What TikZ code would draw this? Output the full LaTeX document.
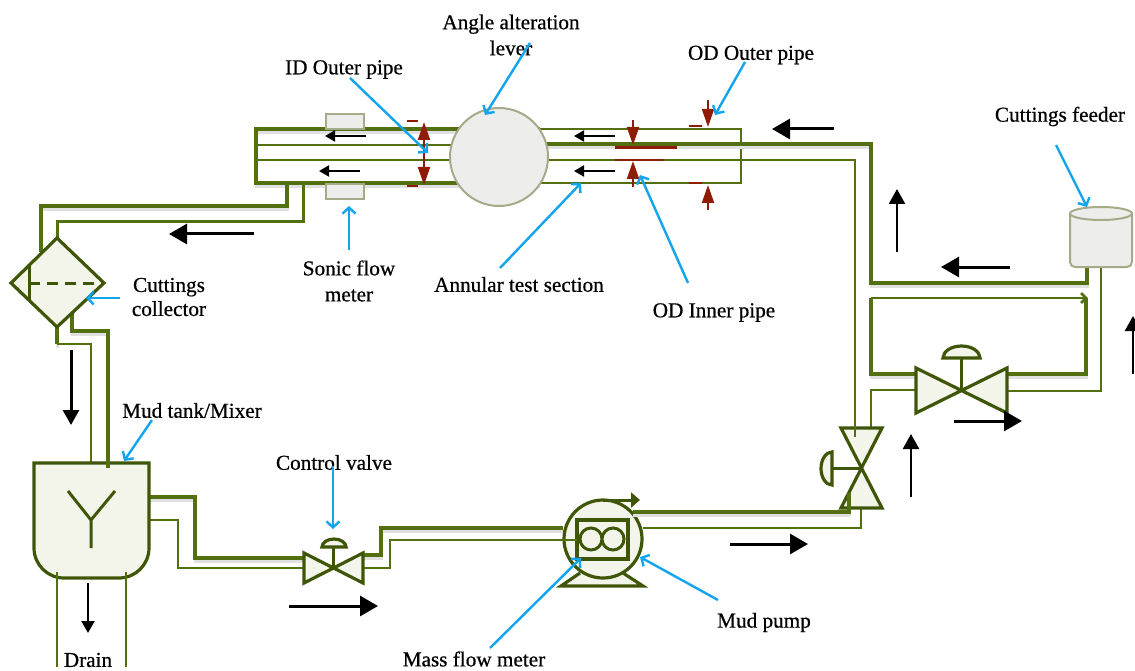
\documentclass[tikz,border=0pt]{standalone}
\usepackage{fontspec}
\setmainfont{Liberation Serif}[FakeBold=0.6]
\usetikzlibrary{arrows.meta,calc}
\definecolor{pipe}{HTML}{527010}
\definecolor{dk}{HTML}{3F5608}
\definecolor{bodyfill}{HTML}{F3F5EB}
\definecolor{grayfill}{HTML}{EDEDEB}
\definecolor{grayedge}{HTML}{A5AA88}
\definecolor{lead}{HTML}{12A5EE}
\definecolor{redd}{HTML}{8E1C06}
\tikzset{
  thick pipe/.style={draw=pipe,line width=4.2pt,line join=miter,drop},
  thin pipe/.style={draw=pipe,line width=2.8pt},
  drop/.style={preaction={draw=black!12,line width=3pt,transform canvas={yshift=-3.5pt}}},
  equip/.style={draw=dk,line width=3.2pt,fill=bodyfill,line join=miter},
  equipline/.style={draw=dk,line width=3pt},
  graybox/.style={draw=grayedge,line width=2pt,fill=grayfill,inner sep=0pt},
  flow/.style={draw=black,line width=3pt,-{Triangle[length=18pt,width=20pt]}},
  flowv/.style={draw=black,line width=2.4pt,-{Triangle[length=15pt,width=16pt]}},
  smallflow/.style={draw=black,line width=2pt,-{Triangle[length=10pt,width=11pt]}},
  leader/.style={draw=lead,line width=2.4pt,-{Straight Barb[length=6pt,width=13pt]}},
  dim/.style={draw=redd,line width=2pt,-{Triangle[length=18pt,width=12pt]}},
  dimbar/.style={draw=redd,line width=2.2pt},
  lbl/.style={font=\fontsize{21.2}{26}\selectfont,text=black,inner sep=0pt,align=center},
}
\begin{document}
\begin{tikzpicture}[x=1pt,y=-1pt]
\useasboundingbox (0,0) rectangle (1135,671);
% pipes
\draw[thick pipe] (540,129) -- (256,129) -- (256,183) -- (540,183);
\draw[thin pipe] (256,145) -- (458,145) (256,160) -- (452,160);
\draw[thin pipe] (540,129) -- (741,129) -- (741,183) -- (540,183);
\draw[thick pipe] (540,144) -- (871,144) -- (871,283) -- (1087,283) -- (1087,267);
\draw[thin pipe] (540,160) -- (855,160) -- (855,428);
\draw[thick pipe] (287,183) -- (287,206) -- (41,206) -- (41,252);
\draw[thin pipe,line width=3pt] (303,183) -- (303,222) -- (57,222) -- (57,238);
\draw[thick pipe] (57,327) -- (57,344);
\draw[thin pipe] (57,344) -- (91,344) -- (91,462);
\draw[thick pipe] (72,312) -- (72,331) -- (108,331) -- (108,468);
\draw[thick pipe] (149,497) -- (195,497) -- (195,558) -- (305,558);
\draw[thin pipe] (149,520) -- (178,520) -- (178,568) -- (305,568);
\draw[thick pipe] (363,555) -- (381,555) -- (381,528) -- (563,528);
\draw[thin pipe] (363,568) -- (390,568) -- (390,540) -- (577,540);
\draw[thin pipe] (643,528) -- (861,528) -- (861,508);
\draw[thin pipe] (871,428) -- (871,390) -- (916,390);
\draw[thick pipe] (871,298) -- (871,374) -- (916,374);
\draw[thick pipe] (1007,374) -- (1086,374) -- (1086,298);
\draw[thin pipe] (871,298) -- (1086,298);
\draw[thin pipe] (1081,293) -- (1086,298) -- (1081,303);
\draw[thin pipe] (1007,391) -- (1101,391) -- (1101,267);
\draw[thin pipe] (57,573) -- (57,667) (126,573) -- (126,667);
% gray boxes and lever
\node[graybox,minimum width=38pt,minimum height=15pt] (sonicTop) at (345,122) {};
\node[graybox,minimum width=38pt,minimum height=15pt] (sonicBot) at (345,191.5) {};
\node[graybox,circle,minimum size=98pt] (lever) at (499,157) {};
% feeder
\draw[graybox,rounded corners=5pt] (1070,213) -- (1070,267) -- (1132,267) -- (1132,213);
\draw[graybox] (1101,213.5) ellipse [x radius=31,y radius=6.5];
% collector
\draw[equip] (57,238) -- (104,283) -- (57,327) -- (11,283) -- cycle;
\draw[equipline] (29,265) -- (29,301);
\draw[equipline,dash pattern=on 11pt off 7pt] (29,283) -- (104,283);
% tank
\draw[equip] (34,463) -- (149,463) -- (149,548) arc[start angle=0,end angle=90,radius=30] -- (64,578) arc[start angle=90,end angle=180,radius=30] -- cycle;
\draw[draw=pipe,line width=4.2pt] (108,450) -- (108,468);
\draw[equipline] (68,491) -- (91,520) -- (115,491) (91,520) -- (91,548);
\draw[thin pipe] (57,572) -- (57,584) (126,572) -- (126,584);
% valve 1
\draw[equip] (304,553) -- (363,583) -- (363,553) -- (304,583) -- cycle;
\draw[equipline] (333,568) -- (333,547);
\draw[equip] (322,547) arc[start angle=180,end angle=360,x radius=12,y radius=8] -- cycle;
% pump
\draw[equip] (580,573) -- (561,586) -- (643,586) -- (623,573);
\node[equip,circle,minimum size=78pt,inner sep=0pt] (pump) at (603,539) {};
\draw[equip,fill=none] (577,520) rectangle (628,559);
\draw[equipline] (591,539) circle (11) (613,539) circle (11);
\draw[thin pipe] (546,540) -- (577,540);
\draw[draw=dk,line width=3pt,-{Triangle[length=9pt,width=15pt]}] (603,500) -- (640,500);
% valve 2
\draw[equip] (841,428) -- (882,428) -- (841,508) -- (882,508) -- cycle;
\draw[equipline] (861,468) -- (832,468);
\draw[equip] (832,452) arc[start angle=-90,end angle=-270,x radius=11,y radius=16.5] -- cycle;
\draw[thin pipe] (855,425) -- (855,437);
\draw[thick pipe] (633,512) -- (849,512) -- (849,493);
% valve 3
\draw[equip] (916,368) -- (1007,413) -- (1007,368) -- (916,413) -- cycle;
\draw[equipline] (961,391) -- (961,358);
\draw[equip] (943,358) arc[start angle=180,end angle=360,x radius=18.5,y radius=12] -- cycle;
% flow arrows
\coordinate (f1a) at (834,129); \coordinate (f1b) at (772,129);
\coordinate (f2a) at (1010,267); \coordinate (f2b) at (941,267);
\coordinate (f3a) at (254,234); \coordinate (f3b) at (169,234);
\coordinate (f4a) at (289,606); \coordinate (f4b) at (378,606);
\coordinate (f5a) at (730,544); \coordinate (f5b) at (808,544);
\coordinate (f6a) at (954,421); \coordinate (f6b) at (1022,421);
\draw[flow] (f1a) -- (f1b);
\draw[flow] (f2a) -- (f2b);
\draw[flow] (f3a) -- (f3b);
\draw[flow] (f4a) -- (f4b);
\draw[flow] (f5a) -- (f5b);
\draw[flow] (f6a) -- (f6b);
\coordinate (v1a) at (897,252); \coordinate (v1b) at (897,189);
\coordinate (v2a) at (911,497); \coordinate (v2b) at (911,434);
\coordinate (v3a) at (1133,374); \coordinate (v3b) at (1133,316);
\coordinate (v4a) at (71,350); \coordinate (v4b) at (71,425);
\coordinate (v5a) at (88,583); \coordinate (v5b) at (88,633);
\draw[flowv] (v1a) -- (v1b);
\draw[flowv] (v2a) -- (v2b);
\draw[flowv] (v3a) -- (v3b);
\draw[flowv,line width=3pt] (v4a) -- (v4b);
\draw[flowv,line width=2pt,-{Triangle[length=12pt,width=13pt]}] (v5a) -- (v5b);
\coordinate (s1a) at (366,136); \coordinate (s1b) at (325,136);
\coordinate (s2a) at (360,171); \coordinate (s2b) at (319,171);
\coordinate (s3a) at (615,136); \coordinate (s3b) at (574,136);
\coordinate (s4a) at (615,171); \coordinate (s4b) at (574,171);
\draw[smallflow] (s1a) -- (s1b);
\draw[smallflow] (s2a) -- (s2b);
\draw[smallflow] (s3a) -- (s3b);
\draw[smallflow] (s4a) -- (s4b);
% dimension marks
\coordinate (d1a) at (424,152); \coordinate (d1b) at (424,122);
\coordinate (d2a) at (424,150); \coordinate (d2b) at (424,185);
\coordinate (d3a) at (633,120); \coordinate (d3b) at (633,145);
\coordinate (d4a) at (633,187); \coordinate (d4b) at (633,161);
\coordinate (d5a) at (708,100); \coordinate (d5b) at (708,127);
\coordinate (d6a) at (708,210); \coordinate (d6b) at (708,185);
\draw[dim] (d1a) -- (d1b);
\draw[dim] (d2a) -- (d2b);
\draw[dim] (d3a) -- (d3b);
\draw[dim] (d4a) -- (d4b);
\draw[dim] (d5a) -- (d5b);
\draw[dim] (d6a) -- (d6b);
\draw[dimbar] (407,121) -- (418,121) (407,186) -- (418,186);
\draw[dimbar] (689,126) -- (702,126) (689,183) -- (702,183);
\draw[dimbar,line width=3pt] (615,148) -- (677,148);
\draw[dimbar] (615,160) -- (664,160);
% labels
\node[lbl] (angle) at (511,35) {Angle alteration\\[0pt]lever};
\node[lbl] (idouter) at (344,69.5) {ID Outer pipe};
\node[lbl] (odouter) at (751,55) {OD Outer pipe};
\node[lbl] (feeder) at (1060,116.5) {Cuttings feeder};
\node[lbl] (sonic) at (349,281) {Sonic flow\\[0pt]meter};
\node[lbl] (annular) at (519,284.5) {Annular test section};
\node[lbl] (odinner) at (714,312.5) {OD Inner pipe};
\node[lbl] (collector) at (169,297) {Cuttings\\[-2pt]collector};
\node[lbl] (mudtank) at (192,410.5) {Mud tank/Mixer};
\node[lbl] (control) at (334,462.5) {Control valve};
\node[lbl] (mudpump) at (764,622.5) {Mud pump};
\node[lbl] (massflow) at (474,659) {Mass flow meter};
\node[lbl] (drain) at (88,660) {Drain};
% leaders
\coordinate (l1a) at (350,78); \coordinate (l1b) at (428,153);
\coordinate (l2a) at (530,43); \coordinate (l2b) at (485,115);
\coordinate (l3a) at (745,62); \coordinate (l3b) at (715,115);
\coordinate (l4a) at (1056,145); \coordinate (l4b) at (1087,207);
\coordinate (l5a) at (120,298); \coordinate (l5b) at (86,298);
\coordinate (l6a) at (152,420); \coordinate (l6b) at (124,461);
\coordinate (l7a) at (333,466); \coordinate (l7b) at (333,529);
\coordinate (l8a) at (349,250); \coordinate (l8b) at (349,206);
\coordinate (l9a) at (500,268); \coordinate (l9b) at (581,183);
\coordinate (l10a) at (688,283); \coordinate (l10b) at (640,175);
\coordinate (l11a) at (490,648); \coordinate (l11b) at (581,558);
\coordinate (l12a) at (718,600); \coordinate (l12b) at (640,557);
\foreach \i in {1,...,12} {\draw[leader] (l\i a) -- (l\i b);}
\end{tikzpicture}
\end{document}
